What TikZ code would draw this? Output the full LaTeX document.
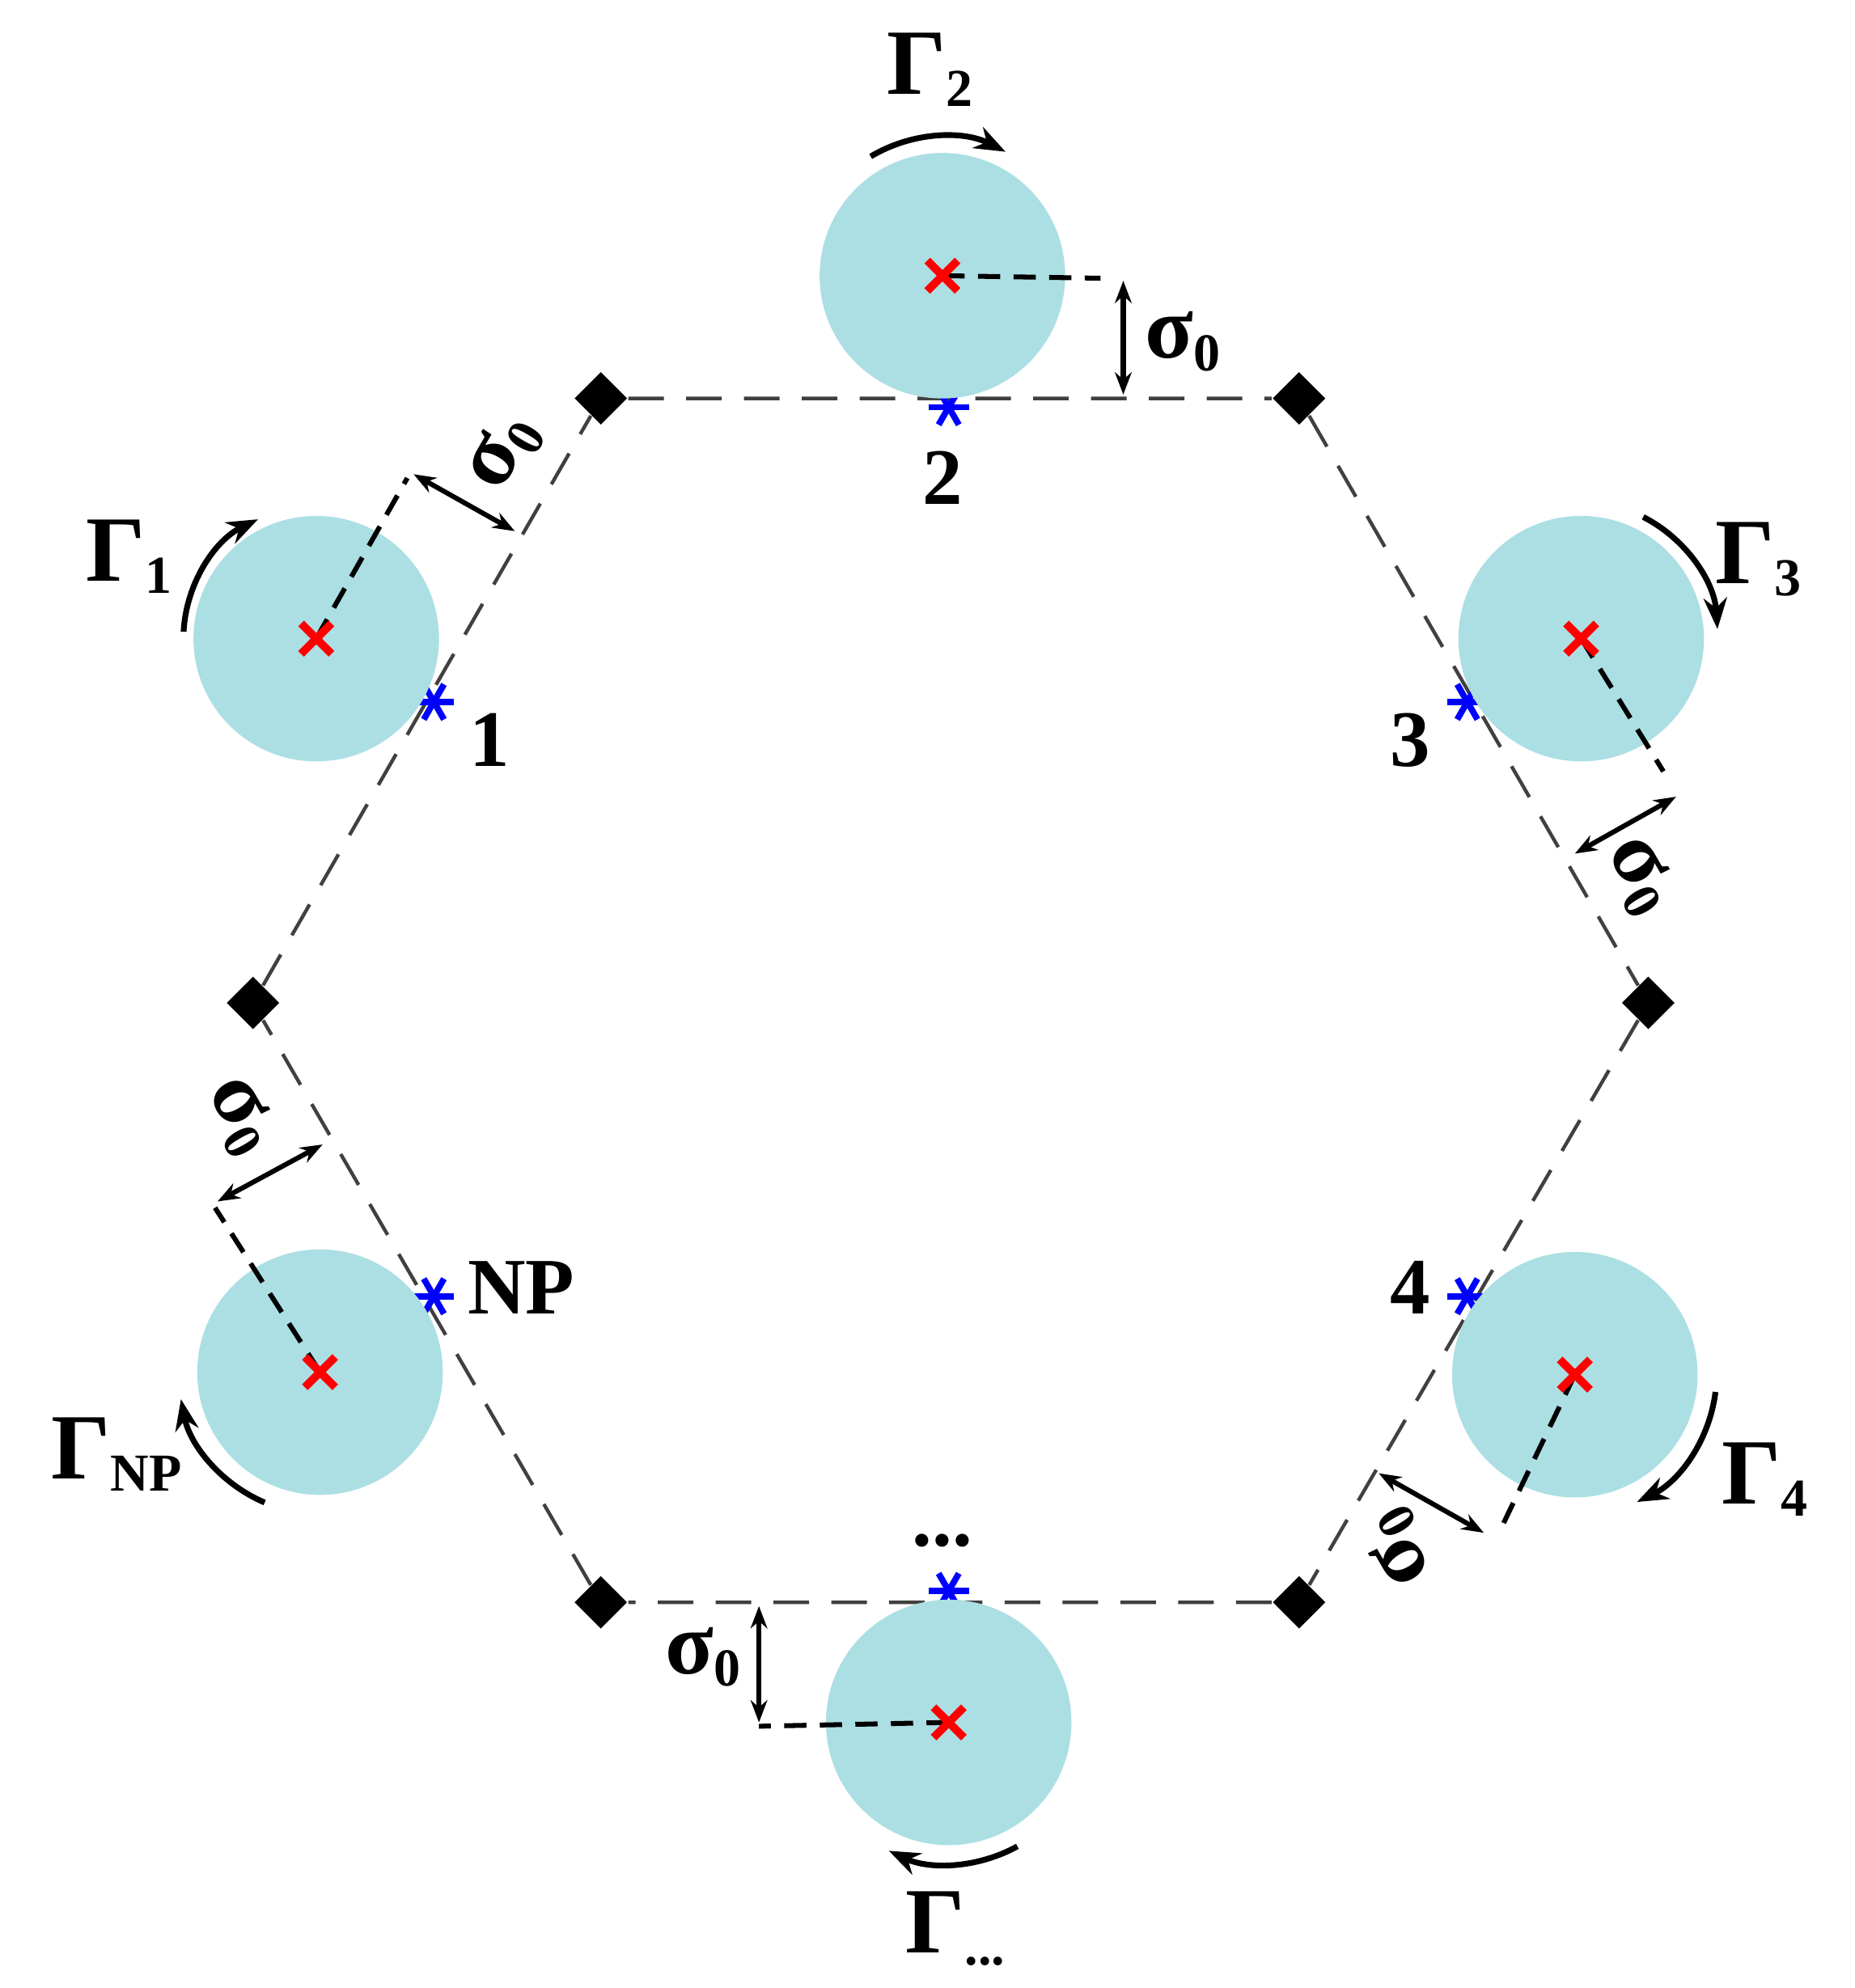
\documentclass[tikz,border=0pt]{standalone}
\usepackage{fontspec}
\setmainfont{Liberation Serif}
\usetikzlibrary{shapes.geometric,arrows.meta,calc}
\definecolor{disk}{HTML}{ACDFE3}
\definecolor{hexg}{HTML}{404040}
\newcommand{\gl}[1]{{\fontsize{21}{24}\selectfont\bfseries Γ}{\fontsize{12}{14}\selectfont\bfseries\raisebox{-0.5ex}{#1}}}
\newcommand{\sg}{{\fontsize{20}{24}\selectfont\bfseries σ}{\fontsize{12}{14}\selectfont\bfseries\raisebox{-0.5ex}{0}}}
\tikzset{
 disknode/.style={circle,fill=disk,minimum size=1.94cm,inner sep=0},
 vert/.style={diamond,fill=black,minimum size=0.42cm,inner sep=0},
 hexline/.style={hexg,line width=0.8pt,dash pattern=on 8pt off 5pt},
 radline/.style={black,line width=1.1pt,dash pattern=on 5pt off 3pt},
 sarrow/.style={black,line width=1.1pt,{Stealth[length=5pt]}-{Stealth[length=5pt]}},
 garrow/.style={black,line width=1.3pt,-{Stealth[length=7pt]}},
 lbl/.style={font=\fontsize{18}{22}\selectfont\bfseries,inner sep=0},
 starl/.style={blue,line width=1.4pt}
}
\newcommand{\bstar}[1]{\foreach \a in {0,60,120}{\draw[starl] ($(#1)+(\a:16)$) -- ($(#1)+(\a+180:16)$);}}
\newcommand{\rx}[1]{\draw[red,line width=1.8pt] ($(#1)+(-12,-12)$) -- ($(#1)+(12,12)$) ($(#1)+(-12,12)$) -- ($(#1)+(12,-12)$);}
\begin{document}
\begin{tikzpicture}[x=0.01cm,y=-0.01cm]
\useasboundingbox (0,0) rectangle (1466,1572);
% hexagon
\node[vert] (v1) at (475,315) {};
\node[vert] (v2) at (1027,315) {};
\node[vert] (v3) at (1303,793) {};
\node[vert] (v4) at (1027,1267) {};
\node[vert] (v5) at (475,1267) {};
\node[vert] (v6) at (200,793) {};
\draw[hexline] (v1)--(v2)--(v3)--(v4)--(v5)--(v6)--(v1);
% stars
\coordinate (s2) at (750,322); \coordinate (s1) at (343,555); \coordinate (s3) at (1160,555);
\coordinate (sn) at (343,1025); \coordinate (s4) at (1160,1025); \coordinate (sd) at (750,1258);
\bstar{s2}\bstar{s1}\bstar{s3}\bstar{sn}\bstar{s4}\bstar{sd}
% disks
\node[disknode] (c2) at (745,218) {};
\node[disknode] (c1) at (250,505) {};
\node[disknode] (c3) at (1250,505) {};
\node[disknode] (cn) at (253,1085) {};
\node[disknode] (c4) at (1245,1087) {};
\node[disknode] (cd) at (750,1362) {};
% labels of stars
\node[lbl] at (745,378) {2};
\node[lbl] at (387,585) {1};
\node[lbl] at (1115,585) {3};
\node[lbl] at (412,1018) {NP};
\node[lbl] at (1115,1018) {4};
\node[lbl] at (745,1218) {...};
% radial dashes and sigma arrows
\coordinate (e2) at (870,220); \draw[radline] (c2.center) -- (e2);
\coordinate (a2a) at (888,222); \coordinate (a2b) at (888,312); \draw[sarrow] (a2a) -- (a2b);
\node at (935,270) {\sg};
\coordinate (e1) at (322,378); \draw[radline] (c1.center) -- (e1);
\coordinate (a1a) at (327,375); \coordinate (a1b) at (407,420); \draw[sarrow] (a1a) -- (a1b);
\node[rotate=60] at (398,358) {\sg};
\coordinate (e3) at (1315,610); \draw[radline] (c3.center) -- (e3);
\coordinate (a3a) at (1325,630); \coordinate (a3b) at (1245,675); \draw[sarrow] (a3a) -- (a3b);
\node[rotate=-60] at (1296,692) {\sg};
\coordinate (e4) at (1185,1212); \draw[radline] (c4.center) -- (e4);
\coordinate (a4a) at (1173,1212); \coordinate (a4b) at (1090,1165); \draw[sarrow] (a4a) -- (a4b);
\node[rotate=120] at (1106,1224) {\sg};
\coordinate (en) at (170,955); \draw[radline] (cn.center) -- (en);
\coordinate (ana) at (172,950); \coordinate (anb) at (255,905); \draw[sarrow] (ana) -- (anb);
\node[rotate=-60] at (190,882) {\sg};
\coordinate (ed) at (600,1365); \draw[radline] (cd.center) -- (ed);
\coordinate (ada) at (600,1362); \coordinate (adb) at (600,1270); \draw[sarrow] (ada) -- (adb);
\node at (556,1310) {\sg};
% red crosses
\rx{c2}\rx{c1}\rx{c3}\rx{cn}\rx{c4}\rx{cd}
% Gamma arcs
\draw[garrow] ($(c2.center)+(-121:110)$) arc[start angle=-121,end angle=-63,radius=110];
\draw[garrow] ($(c1.center)+(183:105)$) arc[start angle=183,end angle=244,radius=105];
\draw[garrow] ($(c3.center)+(-63:108)$) arc[start angle=-63,end angle=-4,radius=108];
\draw[garrow] ($(c4.center)+(7:112)$) arc[start angle=7,end angle=64,radius=112];
\draw[garrow] ($(cn.center)+(113:112)$) arc[start angle=113,end angle=169,radius=112];
\draw[garrow] ($(cd.center)+(61:112)$) arc[start angle=61,end angle=115,radius=112];
% Gamma labels
\node at (735,55) {\gl{2}};
\node at (102,440) {\gl{1}};
\node at (1390,442) {\gl{3}};
\node at (1395,1170) {\gl{4}};
\node at (92,1150) {\gl{NP}};
\node at (755,1525) {\gl{...}};
\end{tikzpicture}
\end{document}
